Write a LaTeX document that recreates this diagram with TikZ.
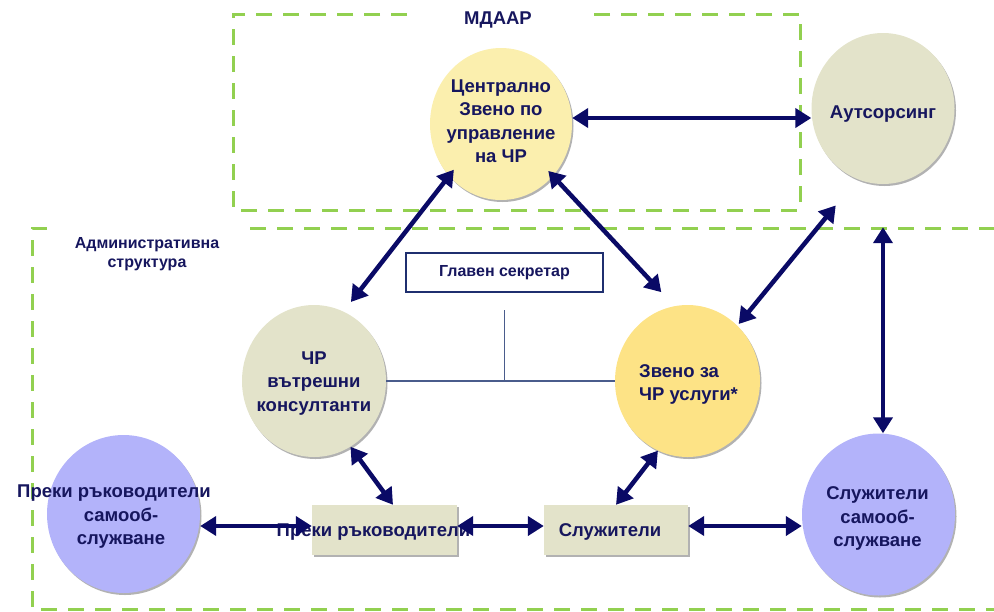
\documentclass[tikz,border=0pt]{standalone}
\usepackage{fontspec}
\setmainfont{Liberation Sans}
\usetikzlibrary{shapes.geometric,arrows.meta,shadows}
\definecolor{navy}{HTML}{0A0A66}
\definecolor{txt}{HTML}{16165E}
\definecolor{grn}{HTML}{92D050}
\definecolor{beige}{HTML}{E3E3CA}
\definecolor{ylw}{HTML}{FBEFAE}
\definecolor{ylw2}{HTML}{FDE386}
\definecolor{blu}{HTML}{B3B3FA}
\definecolor{slate}{HTML}{4A5C8C}
\definecolor{gsb}{HTML}{1F2F6F}
\begin{document}
\begin{tikzpicture}[x=1pt,y=-1pt,
  every node/.style={font=\bfseries\fontsize{18.5}{23.5}\selectfont, text=txt, inner sep=0pt},
  every label/.style={align=center},
  bubble/.style={ellipse,
    drop shadow={shadow xshift=1.5pt,shadow yshift=-2pt,opacity=0.5,fill=black!60}},
  boxnode/.style={rectangle, fill=beige,
    drop shadow={shadow xshift=2pt,shadow yshift=-2pt,opacity=0.5,fill=black!60}},
  >={Triangle[length=16pt,width=19pt,sep=0pt]},
  arr/.style={draw=navy, line width=4.5pt, <->},
  zone/.style={draw=grn, line width=3pt, dash pattern=on 16pt off 11pt},
  thinline/.style={draw=slate, line width=1.5pt},
  smalltext/.style={font=\bfseries\fontsize{16}{19.5}\selectfont}]
\useasboundingbox (0,0) rectangle (994,611);

% dashed zones
\draw[zone] (407,14) -- (233,14) -- (233,210) -- (800,210) -- (800,14) -- (593,14);
\draw[zone] (47,228) -- (32,228) -- (32,609) -- (1000,609);
\draw[zone] (250,228) -- (1000,228);

\node (mdaar) at (498,19.5) {МДААР};
\node[smalltext, align=center] (adm) at (147,254) {Административна\\структура};

% nodes
\node[bubble, fill=ylw, minimum width=142pt, minimum height=152pt,
      label={[yshift=3pt]center:Централно\\Звено по\\управление\\на ЧР}] (cz) at (501,124) {};
\node[bubble, fill=beige, minimum width=143pt, minimum height=151pt,
      label={[yshift=-6pt]center:Аутсорсинг}] (au) at (883,108.5) {};
\node[draw=gsb, line width=2pt, fill=white, minimum width=197pt, minimum height=39pt, smalltext] (gs) at (504.5,272.5) {Главен секретар};
\node[bubble, fill=beige, minimum width=144pt, minimum height=152pt,
      label={[yshift=-2.5pt]center:ЧР\\вътрешни\\консултанти}] (vk) at (314,381) {};
\node[bubble, fill=ylw2, minimum width=145pt, minimum height=152pt,
      label={[align=left, yshift=-3.5pt, xshift=1pt]center:Звено за\\ЧР услуги*}] (zv) at (687.5,381) {};
\node[bubble, fill=blu, minimum width=153pt, minimum height=158pt,
      label={[xshift=-2.5pt, yshift=-3pt]center:Преки ръководители\hspace*{14pt}\\самооб-\\служване}] (ps) at (123.5,514) {};
\node[bubble, fill=blu, minimum width=153pt, minimum height=162pt,
      label={[yshift=-4pt, xshift=-1pt]center:Служители\\самооб-\\служване}] (ss) at (878.5,514.5) {};
\node[boxnode, minimum width=145pt, minimum height=50pt,
      label={[xshift=-11pt, yshift=-2pt]center:Преки ръководители}] (pb) at (384.5,530) {};
\node[boxnode, minimum width=144pt, minimum height=50pt,
      label={[xshift=-6pt, yshift=-2pt]center:Служители}] (sb) at (616,530) {};

% thin lines from Главен секретар
\draw[thinline] ([yshift=-17pt]gs.south) -- (gs.south |- vk.east);
\draw[thinline] (vk.east) -- (zv.west);

% arrows
\coordinate (aw) at ([yshift=-9.5pt]au.west);
\draw[arr] (aw -| cz.east) -- (aw);
\draw[arr, shorten <=-8pt, shorten >=12pt] (cz.225) -- (vk.67);
\draw[arr, shorten <=-7pt, shorten >=19pt] (cz.-45) -- (zv.100);
\draw[arr, shorten <=34pt, shorten >=2pt] (au.250) -- (zv.48);
\draw[arr, shorten <=43pt] (au.south) -- (au.south |- ss.north);
\draw[arr] (vk.-61) -- ([xshift=8.5pt]pb.north);
\draw[arr] (zv.-113) -- (sb.north);
\draw[arr] ([yshift=4pt]pb.west -| ps.east) -- ([yshift=4pt]pb.west);
\draw[arr] ([yshift=4pt]pb.east) -- ([yshift=4pt]sb.west);
\draw[arr] ([yshift=4pt]sb.east) -- ([yshift=4pt]sb.east -| ss.west);
\end{tikzpicture}
\end{document}
